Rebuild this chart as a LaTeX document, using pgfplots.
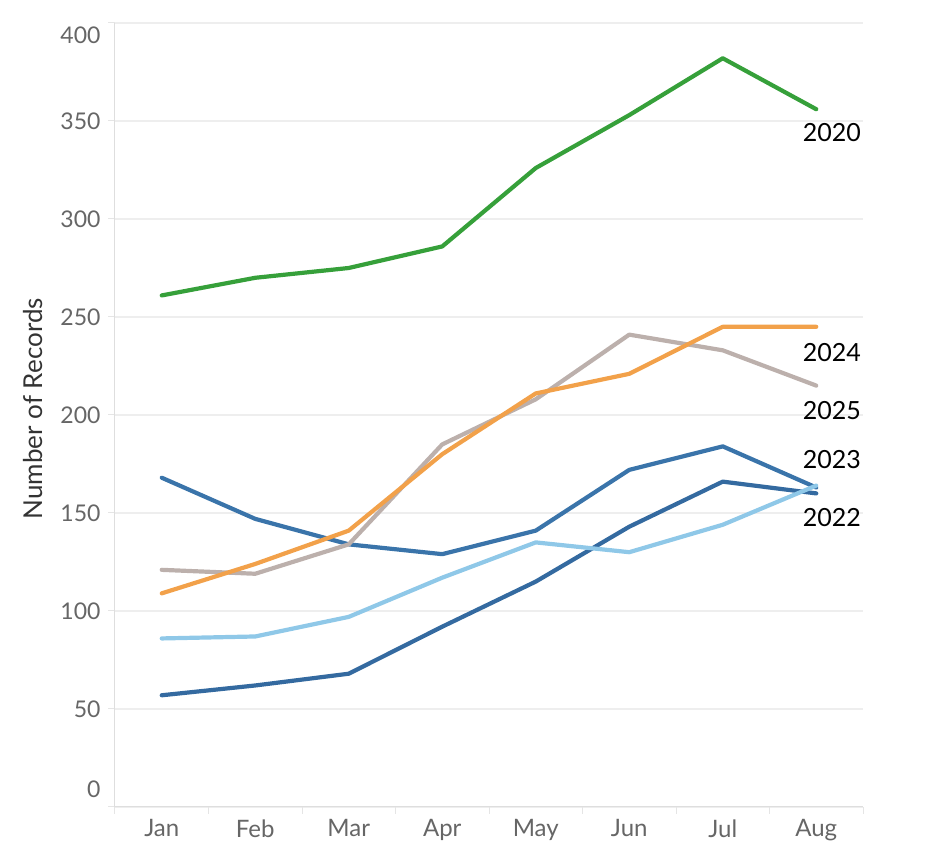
\documentclass[border=0pt]{standalone}
\usepackage{fontspec}
\setmainfont{Lato}
\usepackage{pgfplots}
\pgfplotsset{compat=1.18}

\definecolor{cGreen}{RGB}{54,160,58}
\definecolor{cOrange}{RGB}{242,161,74}
\definecolor{cTan}{RGB}{188,176,172}
\definecolor{cBlue}{RGB}{58,116,170}
\definecolor{cBlueDk}{RGB}{52,106,160}
\definecolor{cLight}{RGB}{143,200,232}
\definecolor{tickgray}{RGB}{102,102,102}
\definecolor{gridgray}{RGB}{238,238,238}

\pgfplotstableread{
m   y2020 y2021 y2022 y2023 y2024 y2025
0   261   57    86    168   109   121
1   270   62    87    147   124   119
2   275   68    97    134   141   134
3   286   92    117   129   180   185
4   326   115   135   141   211   208
5   353   143   130   172   221   241
6   382   166   144   184   245   233
7   356   160   164   163   245   215
}\records

\begin{document}
\begin{tikzpicture}
\path[use as bounding box] (-115pt,-51pt) rectangle (813pt,807pt);
\begin{axis}[
    scale only axis,
    width=748pt, height=784pt,
    xmin=-0.5, xmax=7.5,
    ymin=0, ymax=400,
    axis lines*=left,
    axis line style={draw=black!13, line width=1pt},
    ytick={0,50,...,400},
    yticklabels={,50,100,150,200,250,300,350,},
    ymajorgrids,
    grid style={draw=gridgray, line width=1.2pt},
    xtick={-0.5,0.5,...,7.5},
    xticklabels={Jan,Feb,Mar,Apr,May,Jun,Jul,Aug},
    x tick label as interval,
    major tick length=7pt,
    tick align=outside,
    tick style={draw=black!10, line width=1pt},
    /pgf/number format/assume math mode=true,
    yticklabel style={font=\fontsize{23}{27}\selectfont, text=tickgray, xshift=-4pt},
    xticklabel style={font=\fontsize{24}{28}\selectfont, text=tickgray, yshift=-2pt},
    ylabel={Number of Records},
    ylabel style={at={(axis description cs:-0.1096,0.508)}, anchor=center,
        font=\fontsize{26}{30}\selectfont, text=black!80},
    clip=false,
    every axis plot/.append style={line width=4.2pt, line join=round, line cap=round},
]
\addplot[cBlueDk] table[x=m, y=y2021] {\records};
\addplot[cBlue] table[x=m, y=y2023] {\records};
\addplot[cLight] table[x=m, y=y2022] {\records};
\addplot[cTan] table[x=m, y=y2025] {\records};
\addplot[cOrange] table[x=m, y=y2024] {\records};
\addplot[cGreen] table[x=m, y=y2020] {\records};

\node[anchor=east, font=\fontsize{23}{27}\selectfont, text=tickgray]
    at (axis cs:-0.5,0) [xshift=-11pt, yshift=18pt] {0};
\node[anchor=east, font=\fontsize{23}{27}\selectfont, text=tickgray]
    at (axis cs:-0.5,400) [xshift=-11pt, yshift=-12pt] {400};

\begin{scope}[every node/.style={anchor=west, font=\fontsize{25}{29}\selectfont, text=black, xshift=-17pt}]
\node at (axis cs:7,343.9) {2020};
\node at (axis cs:7,232.1) {2024};
\node at (axis cs:7,202.5) {2025};
\node at (axis cs:7,177.5) {2023};
\node at (axis cs:7,147.9) {2022};
\end{scope}
\end{axis}
\end{tikzpicture}
\end{document}
